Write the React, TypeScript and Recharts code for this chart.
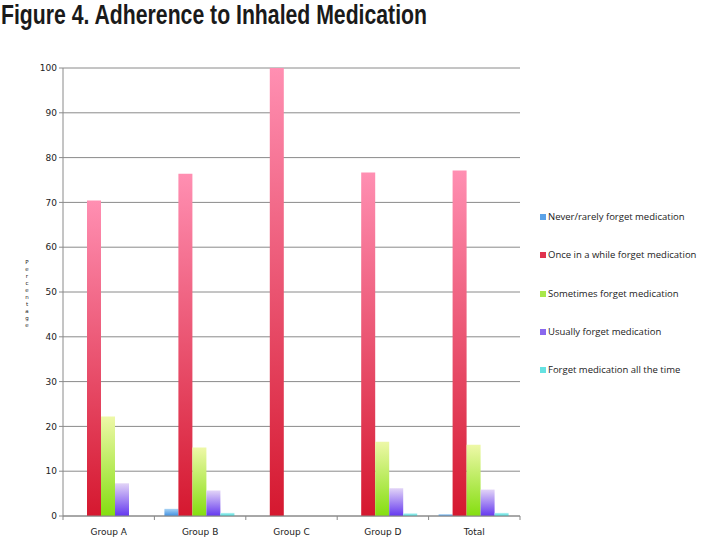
import React from 'react';
import { BarChart, Bar, XAxis, YAxis, CartesianGrid } from 'recharts';

const groups = ['Group A', 'Group B', 'Group C', 'Group D', 'Total'];
const neverRarely = [0, 1.6, 0, 0, 0.4];
const onceInAWhile = [70.4, 76.4, 100, 76.7, 77.1];
const sometimes = [22.2, 15.3, 0, 16.6, 15.9];
const usually = [7.3, 5.7, 0, 6.2, 5.9];
const allTheTime = [0, 0.7, 0, 0.6, 0.7];
const yTicks = [0, 10, 20, 30, 40, 50, 60, 70, 80, 90, 100];
const yLabel = 'Percentage';

const series = [
  { key: 'never', name: 'Never/rarely forget medication', top: '#a9d3f5', bottom: '#3f8fe0', swatch: '#5aa2e8' },
  { key: 'once', name: 'Once in a while forget medication', top: '#ff8fb2', bottom: '#d5182f', swatch: '#e0334e' },
  { key: 'sometimes', name: 'Sometimes forget medication', top: '#eef8a8', bottom: '#84de10', swatch: '#a8e84a' },
  { key: 'usually', name: 'Usually forget medication', top: '#e2d4f7', bottom: '#6438ef', swatch: '#8a68ee' },
  { key: 'allTime', name: 'Forget medication all the time', top: '#b8f4f4', bottom: '#3ed6d6', swatch: '#66e2e2' },
];

const data = groups.map((g, i) => ({
  group: g,
  never: neverRarely[i],
  once: onceInAWhile[i],
  sometimes: sometimes[i],
  usually: usually[i],
  allTime: allTheTime[i],
}));

const BAND = 457 / groups.length;

const XTick = (props: any) => {
  const { x, y, payload, index } = props;
  return (
    <g>
      <line x1={x - BAND / 2} y1={y - 8} x2={x - BAND / 2} y2={y - 4} stroke="#888" />
      {index === groups.length - 1 && (
        <line x1={x + BAND / 2} y1={y - 8} x2={x + BAND / 2} y2={y - 4} stroke="#888" />
      )}
      <text x={x} y={y + 11} textAnchor="middle" fontSize={9} fill="#222" fontFamily="DejaVu Sans">
        {payload.value}
      </text>
    </g>
  );
};

export default function App() {
  return (
    <div style={{ position: 'absolute', left: 0, top: 0, width: 720, height: 552, background: '#fff' }}>
      <svg width={720} height={552} style={{ position: 'absolute', left: 0, top: 0 }}>
        <text x={1} y={24} fontFamily="Liberation Sans, Arial, sans-serif" fontWeight="bold" fontSize={27}
          fill="#1a1a1a" textLength={426} lengthAdjust="spacingAndGlyphs">
          Figure 4. Adherence to Inhaled Medication
        </text>
        <text fontSize={5.5} fontFamily="DejaVu Sans" fill="#222" textAnchor="middle">
          {yLabel.split('').map((ch, i) => (
            <tspan key={i} x={27} y={264 + i * 7}>{ch}</tspan>
          ))}
        </text>
      </svg>
      <div style={{ position: 'absolute', left: 0, top: 0 }}>
        <BarChart width={720} height={552} data={data} barGap={0} barCategoryGap={10}
          margin={{ top: 68, right: 200, bottom: 0, left: 23 }}>
          <defs>
            {series.map((s) => (
              <linearGradient key={s.key} id={'grad-' + s.key} x1="0" y1="0" x2="0" y2="1">
                <stop offset="0%" stopColor={s.top} />
                <stop offset="100%" stopColor={s.bottom} />
              </linearGradient>
            ))}
          </defs>
          <CartesianGrid vertical={false} stroke="#8a8a8a" strokeWidth={1} />
          <XAxis dataKey="group" tick={<XTick />} tickLine={false} axisLine={{ stroke: '#8a8a8a' }} interval={0} height={36} />
          <YAxis domain={[0, 100]} ticks={yTicks} width={40} interval={0}
            axisLine={{ stroke: '#8a8a8a' }} tickLine={{ stroke: '#8a8a8a' }} tickSize={4}
            tick={{ fontSize: 9, fill: '#222', fontFamily: 'DejaVu Sans' }} />
          {series.map((s) => (
            <Bar key={s.key} dataKey={s.key} name={s.name} fill={`url(#grad-${s.key})`} isAnimationActive={false} />
          ))}
        </BarChart>
      </div>
      <div style={{ position: 'absolute', left: 540, top: 210, fontFamily: '"Open Sans", sans-serif', fontSize: 9.5, color: '#222' }}>
        {series.map((s) => (
          <div key={s.key} style={{ height: 38.3, display: 'flex', alignItems: 'flex-start', whiteSpace: 'nowrap' }}>
            <span style={{ width: 6, height: 6, background: s.swatch, display: 'inline-block', marginTop: 4, marginRight: 2 }} />
            <span>{s.name}</span>
          </div>
        ))}
      </div>
    </div>
  );
}
